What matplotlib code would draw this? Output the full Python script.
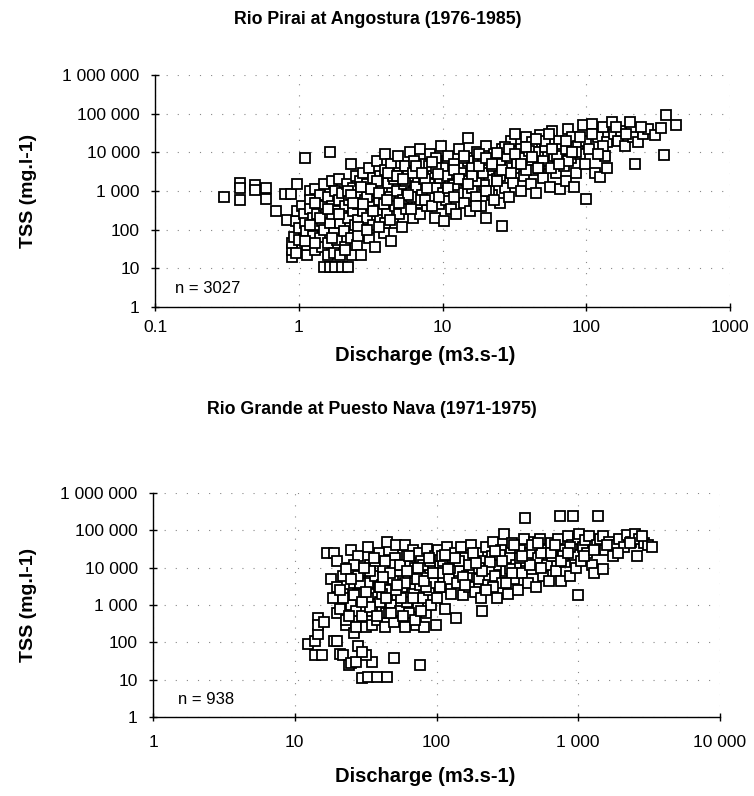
import matplotlib
matplotlib.use("Agg")
import matplotlib.pyplot as plt
from matplotlib.ticker import FixedLocator, FixedFormatter, NullLocator

plt.rcParams['font.family'] = ['Liberation Sans', 'DejaVu Sans']

# ---------------- data ----------------
# Rio Pirai at Angostura: discharge (m3/s) and TSS (mg/l)
pirai_q = [
    0.30, 0.39, 0.39, 0.39, 0.50, 0.50, 0.59, 0.59, 0.69, 0.80, 0.88, 0.83, 0.98,
    0.90, 0.90, 0.90, 0.92, 0.95, 0.97, 1.0, 1.0, 0.95,
    1.05, 1.08, 1.1, 1.1, 1.12, 1.15, 1.15, 1.2, 1.2, 1.2, 1.25, 1.25, 1.3, 1.3, 1.3,
    1.35, 1.35, 1.4, 1.4, 1.45, 1.45, 1.5, 1.5, 1.5, 1.5,
    1.55, 1.6, 1.6, 1.6, 1.65, 1.65, 1.65, 1.7, 1.7, 1.75, 1.75, 1.8, 1.8, 1.85, 1.85,
    1.9, 1.9, 1.95, 1.95, 2.0, 2.0, 2.0, 2.05, 2.1, 2.1, 2.15, 2.2, 2.2, 2.25, 2.3, 2.3,
    2.35, 2.4, 2.4, 2.45, 2.5, 2.5,
    2.55, 2.6, 2.6, 2.65, 2.7, 2.7, 2.8, 2.8, 2.9, 2.9, 3.0, 3.0, 3.1, 3.1, 3.2, 3.2,
    3.3, 3.3, 3.4, 3.4, 3.5, 3.5, 3.6, 3.7, 3.7, 3.8, 3.9, 3.9, 4.0, 4.0, 4.1, 4.2,
    4.3, 4.4, 4.4, 4.5, 4.6, 4.7, 4.8, 4.9, 5.0, 5.0,
    5.2, 5.3, 5.4, 5.5, 5.6, 5.8, 5.9, 6.0, 6.2, 6.3, 6.5, 6.6, 6.8, 7.0, 7.0, 7.2,
    7.4, 7.6, 7.8, 8.0, 8.2, 8.4, 8.6, 8.8, 9.0, 9.2, 9.4, 9.6, 9.8, 10.0, 10.0, 10.2,
    10.5, 10.8, 11, 11.5, 11.8, 12, 12.5, 12.8, 13, 13.5, 14, 14.5, 15, 15, 15.5, 16,
    16.5, 17, 17.5, 18, 18.5, 19, 19.5, 20, 20, 21, 22, 23, 24, 25, 25, 26, 26, 27,
    28, 29, 30, 30,
    31, 32, 33, 35, 35, 37, 38, 40, 41, 42, 44, 45, 46, 48, 50, 52, 54, 56, 58, 60,
    62, 64, 66, 68, 70, 72, 75, 78, 80, 82, 85, 88, 90, 95, 98,
    100, 100, 105, 110, 115, 120, 125, 130, 135, 140, 150, 155, 165, 175, 185, 200,
    210, 220, 230, 250, 270, 300, 330, 350, 360, 420,
    1.3, 1.7, 2.2, 2.6, 3.0, 3.5, 4.0, 4.5, 5.5, 6.2, 7.0, 8.0, 9.0, 11, 13, 15, 17,
    19, 22, 25, 28, 33, 38, 44, 50, 57, 65, 75, 6.0, 7.5, 9.0, 12, 14, 16, 18, 21,
    24, 27, 36, 40, 47, 55, 63, 72, 85,
    2.3, 2.7, 3.2, 3.6, 4.2, 4.8, 5.3, 5.8, 6.5, 7.2, 7.8, 8.5, 9.3, 3.3, 4.1, 5.0,
    6.0, 7.5, 8.5, 9.5, 2.8, 1.9, 1.4, 1.2, 1.6, 2.4, 1.1, 1.3, 1.7, 2.1, 2.6, 3.0,
    3.6, 4.3,
    11, 12, 13, 14, 16, 18, 20, 22, 24, 26, 29, 32, 35, 38, 42, 46, 52, 58, 65, 72,
    80, 90, 45, 55, 30, 20, 15, 12, 17, 23,
    110, 130, 160, 190, 240, 120, 140,
]
pirai_tss = [
    690, 1580, 1170, 590, 1450, 1070, 1170, 620, 310, 830, 830, 180, 1500,
    20, 30, 45, 64, 170, 300, 110, 55, 25,
    400, 250, 7000, 150, 90, 22, 40, 1000, 600, 350, 200, 70, 1100, 130, 30,
    500, 250, 60, 800, 170, 35, 400, 1500, 100, 11,
    250, 700, 45, 22, 10500, 11, 150, 1800, 400, 80, 25, 1000, 11, 300, 55,
    600, 2000, 150, 22, 11, 900, 250, 90, 400, 35, 1500, 200, 11, 600, 5000, 60,
    22, 1200, 300, 130, 2500, 700,
    40, 180, 450, 1800, 900, 22, 300, 3000, 100, 600, 1500, 200, 60, 4000, 800, 400,
    2200, 130, 35, 1000, 300, 6000, 600, 180, 2500, 1200, 80, 450, 3500, 9000, 250, 1600,
    700, 50, 5000, 150, 2000, 400, 1000, 8000, 3000, 250,
    120, 600, 1500, 4500, 350, 2500, 10000, 900, 200, 6000, 1300, 500, 3500, 12000, 250, 800,
    2000, 5000, 400, 1500, 9000, 700, 3000, 200, 1200, 6000, 450, 2200, 15000, 900, 4000, 170,
    600, 2500, 8000, 350, 1500, 5000, 250, 900, 12000, 3000, 500, 1800, 23000, 7000, 300, 1200,
    4000, 700, 10000, 2200, 400, 6000, 1400, 200, 15000, 3500, 800, 9000, 2000, 500, 5000, 125, 12000, 1200,
    3000, 700, 20000, 7000,
    1600, 30000, 4000, 1000, 12000, 2500, 25000, 6000, 1500, 18000, 3500, 900, 9000, 28000, 2200, 14000, 5000, 1300, 35000, 8000,
    3000, 20000, 1100, 12000, 4500, 1800, 40000, 7000, 25000, 1300, 3000, 15000, 9000, 50000, 5000,
    620, 20000, 12000, 55000, 3000, 25000, 2300, 45000, 8000, 18000, 60000, 30000, 20000, 35000, 15000, 60000,
    25000, 5000, 18000, 30000, 40000, 28000, 42000, 8500, 95000, 50000,
    500, 250, 1000, 120, 700, 1800, 150, 2500, 1800, 3000, 600, 4500, 7000, 1000, 2000, 6000, 1800,
    3000, 4500, 2500, 8000, 5000, 3500, 10000, 6000, 4000, 9000, 6000, 700, 2000, 4000, 1400, 7000, 4000, 9000, 1000,
    1800, 14000, 7000, 11000, 4000, 22000, 8000, 12000, 10000,
    800, 1300, 1100, 900, 3000, 2500, 2000, 800, 4500, 3000, 1200, 5500, 2800, 300, 600, 500,
    350, 600, 400, 700, 450, 250, 200, 130, 350, 500, 50, 45, 60, 30, 70, 100,
    120, 180,
    1200, 3500, 2000, 8000, 2500, 4500, 7000, 5000, 9500, 3500, 12000, 9000, 5000, 14000, 7500, 4000, 20000, 12000, 5000, 20000,
    10000, 25000, 22000, 30000, 3000, 1000, 1500, 700, 400, 600,
    30000, 15000, 45000, 30000, 45000, 9000, 4000,
]

# Rio Grande at Puesto Nava
grande_q = [
    12.5, 14, 14.5, 14, 15.5, 14.5, 14.5, 16, 17, 19, 18, 18.5, 19, 20, 20, 21, 22, 23, 23,
    24, 25, 26, 27, 28, 30, 33, 38, 45, 50, 76, 35, 32, 30,
    20, 20, 21, 22, 22, 23, 24, 25, 25, 26, 27, 27, 28, 29, 30, 30, 31, 32, 33, 33, 34, 35,
    35, 36, 37, 38, 39, 40, 41, 42, 43, 44, 45, 46, 47, 48, 49, 50, 52, 53, 54, 55, 57, 58,
    60, 60, 62, 63, 65, 66, 68, 69, 71, 72, 74, 75, 77, 78, 80, 82, 83, 85, 86, 88, 90, 92,
    95, 97, 99,
    100, 102, 105, 108, 112, 115, 118, 122, 126, 130, 134, 138, 140, 145, 150, 155, 160, 165,
    170, 176, 182, 188, 195, 200, 206, 210, 215, 222, 230, 238, 245, 252, 260, 268, 275, 283,
    290, 300, 310, 320, 330, 340, 350, 362, 375, 388, 400, 415, 420, 430, 445, 460, 475, 490,
    505, 520, 540, 560, 580, 600, 620, 645, 670, 700, 720, 740, 750, 780, 810, 840, 870, 900,
    920, 930, 960, 990, 995,
    1020, 1050, 1080, 1120, 1150, 1200, 1250, 1300, 1350, 1380, 1420, 1500, 1500, 1550, 1650,
    1750, 1850, 1950, 2100, 2200, 2350, 2500, 2600, 2700, 2900, 3100, 3300,
    22, 26, 29, 33, 37, 41, 46, 51, 56, 62, 70, 80, 90, 110, 125, 145, 170, 200, 240, 280,
    330, 390, 460, 550, 650, 780, 24, 28, 34, 39, 44, 50, 57, 64, 73, 84,
    21, 23, 26, 28, 31, 34, 36, 40, 43, 47, 52, 55, 60, 64, 68, 74, 82, 88, 95, 30,
    38, 48, 58, 70, 78, 25, 32, 42, 53, 62,
    105, 120, 135, 155, 180, 210, 250, 290, 340, 400, 470, 550, 640, 760, 880, 115,
    190, 260, 350, 520, 690, 850, 160, 225, 310,
    1100, 1300, 1600, 1900, 2300, 2800,
]
grande_tss = [
    90, 110, 170, 45, 45, 450, 300, 350, 25000, 25000, 5000, 1500, 110, 110, 600, 50, 45, 1200, 300,
    25, 28, 180, 30, 80, 11, 12, 12, 12, 38, 25, 30, 45, 55,
    3000, 15000, 800, 6000, 2000, 400, 10000, 30000, 1000, 4000, 250, 700, 20000, 2500, 500, 8000, 1500, 250, 35000, 4000, 12000, 700,
    300, 2000, 6000, 400, 25000, 1200, 3500, 9000, 250, 600, 50000, 16000, 2500, 1000, 5000, 350, 40000, 1800, 8000, 700, 3000, 22000,
    250, 40000, 1200, 5000, 12000, 500, 30000, 2000, 7000, 300, 900, 25000, 3500, 15000, 1500, 250, 6000, 600, 32000, 2500, 10000, 1000,
    4000, 20000, 300,
    1500, 30000, 7000, 3000, 15000, 800, 35000, 5000, 2000, 12000, 25000, 450, 4000, 8000, 35000, 1800, 18000, 6000,
    3000, 40000, 10000, 2200, 25000, 5000, 1500, 700, 15000, 35000, 3500, 9000, 20000, 50000, 6000, 1500, 12000, 30000,
    4000, 80000, 8000, 2000, 18000, 45000, 5000, 12000, 2500, 30000, 7000, 60000, 210000, 15000, 4000, 25000, 9000, 50000,
    3000, 18000, 60000, 6000, 30000, 12000, 4500, 45000, 20000, 8000, 60000, 240000, 4500, 30000, 14000, 70000, 6000, 40000,
    240000, 22000, 10000, 1900, 60000,
    80000, 15000, 35000, 55000, 25000, 70000, 12000, 7000, 40000, 240000, 60000, 9000, 70000, 30000, 50000,
    20000, 40000, 60000, 35000, 75000, 50000, 80000, 20000, 60000, 45000, 40000, 35000,
    1500, 12000, 4000, 1500, 15000, 2000, 600, 18000, 1500, 20000, 10000, 12000, 15000, 20000, 10000, 15000, 12000, 10000, 14000, 22000,
    9000, 18000, 12000, 25000, 20000, 20000, 500, 2000, 8000, 3000, 1500, 12000, 3000, 600, 5000, 3000,
    2500, 9000, 1800, 6000, 10000, 900, 18000, 3000, 15000, 7000, 2500, 12000, 4000, 20000, 1500, 10000, 4500, 18000, 7000, 1200,
    500, 600, 500, 400, 700, 5000, 2200, 5500, 3500, 8000,
    3000, 9000, 18000, 5500, 25000, 8000, 3000, 15000, 7000, 20000, 40000, 10000, 25000, 15000, 35000, 22000,
    13000, 28000, 40000, 45000, 40000, 25000, 3500, 2500, 4000,
    20000, 30000, 40000, 25000, 45000, 70000,
]

pirai_xticks = [0.1, 1, 10, 100, 1000]
pirai_xlabels = ['0.1', '1', '10', '100', '1000']
grande_xticks = [1, 10, 100, 1000, 10000]
grande_xlabels = ['1', '10', '100', '1 000', '10 000']
tss_ticks = [1, 10, 100, 1000, 10000, 100000, 1000000]
tss_labels = ['1', '10', '100', '1 000', '10 000', '100 000', '1 000 000']

# ---------------- figure ----------------
fig = plt.figure(figsize=(7.54, 7.96), dpi=100)
W, H = 754, 796

def make_axes(px_left, px_right, px_top, px_bottom):
    return fig.add_axes([px_left / W, 1 - px_bottom / H,
                         (px_right - px_left) / W, (px_bottom - px_top) / H])

ax1 = make_axes(155, 730, 75, 307)
ax2 = make_axes(153, 720, 493, 717)

def style(ax, q, tss, xt, xl, xlim, title, title_x, title_y, ntext, ntext_pos,
          xlabel_y, xpad, ylab_x):
    ax.set_xscale('log')
    ax.set_yscale('log')
    ax.set_xlim(*xlim)
    ax.set_ylim(1, 1000000)
    ax.plot(q, tss, linestyle='none', marker='s', markersize=6.6,
            markerfacecolor='white', markeredgecolor='black',
            markeredgewidth=1.3, clip_on=False, zorder=3)
    for s in ['top', 'right']:
        ax.spines[s].set_visible(False)
    for s in ['left', 'bottom']:
        ax.spines[s].set_linewidth(1.0)
        ax.spines[s].set_color('black')
    ax.xaxis.set_major_locator(FixedLocator(xt))
    ax.xaxis.set_major_formatter(FixedFormatter(xl))
    ax.yaxis.set_major_locator(FixedLocator(tss_ticks))
    ax.yaxis.set_major_formatter(FixedFormatter(tss_labels))
    ax.xaxis.set_minor_locator(NullLocator())
    ax.yaxis.set_minor_locator(NullLocator())
    ax.tick_params(axis='both', direction='inout', length=6, width=1.0,
                   labelsize=12.5, colors='black')
    ax.tick_params(axis='y', pad=8)
    ax.tick_params(axis='x', pad=xpad)
    ax.grid(True, which='major', color='#888888', linewidth=0.8,
            linestyle=(0, (1, 9)), zorder=0)
    ax.set_ylabel('TSS (mg.l-1)', fontsize=14, fontweight='bold')
    ax.yaxis.set_label_coords(ylab_x, 0.5)
    ax.text(ntext_pos[0], ntext_pos[1], ntext, transform=ax.transAxes,
            fontsize=12, ha='left', va='center')
    fig.text(title_x / W, 1 - title_y / H, title, ha='center', va='center',
             fontsize=12.8, fontweight='bold')
    fig.text(425 / W, 1 - xlabel_y / H, 'Discharge (m3.s-1)',
             ha='center', va='center', fontsize=14.5, fontweight='bold')

style(ax1, pirai_q, pirai_tss, pirai_xticks, pirai_xlabels, (0.1, 1000),
      'Rio Pirai at Angostura (1976-1985)', 378, 20,
      'n = 3027', (0.035, 0.08), 355, 6, -0.205)
style(ax2, grande_q, grande_tss, grande_xticks, grande_xlabels, (1, 10000),
      'Rio Grande at Puesto Nava (1971-1975)', 372, 410,
      'n = 938', (0.044, 0.08), 776, 10, -0.205)

fig.savefig('out.png', dpi=100, facecolor='white')
